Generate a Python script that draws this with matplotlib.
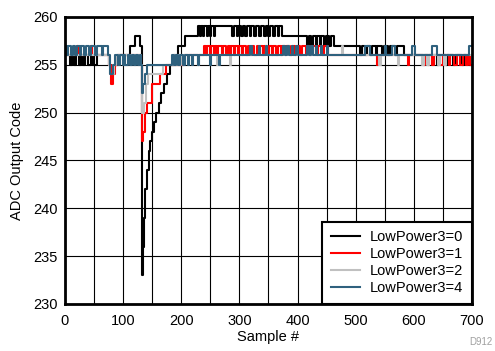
import matplotlib
matplotlib.use("Agg")
import matplotlib.pyplot as plt
from matplotlib.ticker import MultipleLocator

plt.rcParams['font.family'] = ['Liberation Sans', 'DejaVu Sans']
plt.rcParams['font.size'] = 10.5

# step data: (sample, code) at each change
lp0 = [(0, 256), (9, 255), (12, 256), (16, 255), (19, 256), (24, 255), (27, 256), (31, 255),
       (34, 256), (40, 255), (44, 256), (49, 255), (55, 256), (75, 255), (79, 254), (84, 255),
       (92, 256), (112, 257), (120, 258), (129, 257), (132, 233), (134, 236), (136, 239),
       (138, 242), (141, 244), (144, 246), (147, 247), (150, 248), (153, 249), (157, 250),
       (161, 251), (166, 252), (170, 253), (175, 254), (181, 255), (188, 256), (194, 257),
       (206, 258), (228, 259), (232, 258), (234, 259), (238, 258), (240, 259), (244, 258),
       (246, 259), (250, 258), (252, 259), (256, 258), (258, 259), (288, 258), (290, 259),
       (296, 258), (298, 259), (303, 258), (306, 259), (310, 258), (313, 259), (318, 258),
       (320, 259), (326, 258), (329, 259), (334, 258), (337, 259), (342, 258), (345, 259),
       (350, 258), (353, 259), (358, 258), (361, 259), (366, 258), (368, 259), (374, 258),
       (417, 257), (420, 258), (424, 257), (427, 258), (431, 257), (433, 258), (438, 257),
       (441, 258), (446, 257), (449, 258), (454, 257), (457, 258), (462, 257), (508, 256),
       (511, 257), (516, 256), (519, 257), (525, 256), (528, 257), (535, 256), (537, 257),
       (545, 256), (548, 257), (556, 256), (559, 257), (568, 256), (571, 257), (584, 256),
       (640, 255), (643, 256), (655, 255), (658, 256), (668, 255), (671, 256), (683, 255),
       (687, 256), (695, 255), (700, 255)]

lp1 = [(0, 256), (20, 257), (22, 256), (45, 257), (47, 256), (76, 255), (79, 253), (83, 254),
       (86, 255), (90, 256), (131, 255), (133, 247), (135, 248), (137, 250), (141, 251),
       (150, 253), (163, 254), (174, 255), (205, 256), (240, 257), (243, 256), (245, 257),
       (249, 256), (251, 257), (256, 256), (258, 257), (262, 256), (264, 257), (270, 256),
       (272, 257), (277, 256), (280, 257), (284, 256), (286, 257), (291, 256), (293, 257),
       (297, 256), (300, 257), (305, 256), (307, 257), (312, 256), (315, 257), (319, 256),
       (321, 257), (326, 256), (330, 257), (333, 256), (336, 257), (341, 256), (343, 257),
       (348, 256), (351, 257), (356, 256), (358, 257), (363, 256), (366, 257), (371, 256),
       (374, 257), (379, 256), (381, 257), (387, 256), (390, 257), (396, 256), (399, 257),
       (405, 256), (408, 257), (414, 256), (417, 257), (421, 256), (425, 257), (431, 256),
       (435, 257), (442, 256), (445, 257), (452, 256), (537, 255), (539, 256), (590, 255),
       (592, 256), (616, 255), (619, 256), (624, 255), (627, 256), (632, 255), (634, 256),
       (645, 255), (650, 256), (660, 255), (663, 256), (670, 255), (674, 256), (680, 255),
       (684, 256), (690, 255), (693, 256), (697, 255), (700, 255)]

lp2 = [(0, 256), (76, 255), (78, 254), (84, 255), (88, 256), (131, 255), (133, 250), (136, 251),
       (139, 253), (143, 254), (168, 255), (186, 256), (190, 255), (193, 256), (197, 255),
       (200, 256), (228, 255), (230, 256), (262, 255), (264, 256), (284, 255), (286, 256),
       (345, 257), (347, 256), (383, 257), (385, 256), (477, 257), (479, 256), (541, 255),
       (543, 256), (573, 255), (575, 256), (614, 255), (617, 256), (622, 255), (626, 256),
       (641, 255), (645, 256), (652, 255), (656, 256), (700, 256)]

lp4 = [(0, 257), (3, 256), (6, 257), (10, 256), (13, 257), (17, 256), (20, 257), (25, 256),
       (28, 257), (33, 256), (36, 257), (42, 256), (45, 257), (52, 256), (55, 257), (63, 256),
       (66, 257), (74, 256), (77, 254), (82, 255), (86, 256), (92, 255), (95, 256), (99, 255),
       (101, 256), (104, 255), (108, 256), (111, 255), (115, 256), (119, 255), (122, 256),
       (126, 255), (129, 256), (131, 255), (132, 252), (135, 253), (138, 254), (141, 255),
       (184, 256), (188, 255), (191, 256), (195, 255), (198, 256), (203, 255), (206, 256),
       (211, 255), (214, 256), (218, 255), (221, 256), (229, 255), (231, 256), (250, 255),
       (252, 256), (265, 255), (267, 256), (318, 257), (321, 256), (333, 257), (335, 256),
       (345, 257), (348, 256), (375, 257), (378, 256), (382, 257), (385, 256), (390, 257),
       (393, 256), (398, 257), (401, 256), (416, 257), (419, 256), (423, 257), (427, 256),
       (431, 257), (434, 256), (440, 257), (443, 256), (450, 257), (453, 256), (516, 257),
       (525, 256), (551, 257), (553, 256), (563, 257), (568, 256), (597, 257), (602, 256),
       (632, 257), (640, 256), (695, 257), (700, 257)]

series = [(lp0, 'black', 'LowPower3=0'),
          (lp1, 'red', 'LowPower3=1'),
          (lp2, '#c0c0c0', 'LowPower3=2'),
          (lp4, '#2f617e', 'LowPower3=4')]

fig = plt.figure(figsize=(4.95, 3.51), dpi=100)
ax = fig.add_axes([0.1313, 0.134, 0.822, 0.818])

for pts, col, lab in series:
    xs = [p[0] for p in pts]
    ys = [p[1] for p in pts]
    ax.plot(xs, ys, drawstyle='steps-post', color=col, lw=1.5, label=lab)

ax.set_xlim(0, 700)
ax.set_ylim(230, 260)
ax.xaxis.set_major_locator(MultipleLocator(100))
ax.xaxis.set_minor_locator(MultipleLocator(50))
ax.yaxis.set_major_locator(MultipleLocator(5))
ax.grid(True, which='both', color='black', lw=0.8)
ax.set_axisbelow(True)
ax.tick_params(which='both', length=0)
ax.tick_params(axis='x', pad=7)
ax.tick_params(axis='y', pad=5)
for sp in ax.spines.values():
    sp.set_linewidth(2)

ax.set_xlabel('Sample #', labelpad=2)
ax.set_ylabel('ADC Output Code', labelpad=7)

leg = ax.legend(loc='lower right', borderaxespad=0, fancybox=False, framealpha=1,
                edgecolor='black', labelspacing=0.2, handlelength=2.0,
                handletextpad=0.65, borderpad=0.6)
leg.get_frame().set_linewidth(1.5)

fig.text(0.995, 0.01, 'D912', color='#a0a0a0', fontsize=7, ha='right', va='bottom')

fig.savefig('out.png', dpi=100)
